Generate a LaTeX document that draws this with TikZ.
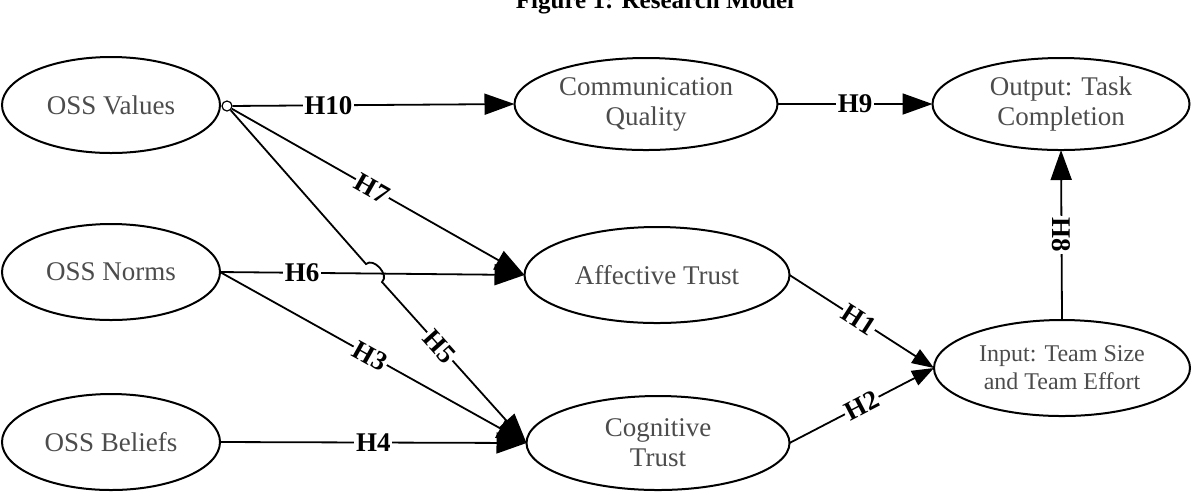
\documentclass[tikz,border=0pt]{standalone}
\usepackage{fontspec}
\setmainfont{Liberation Serif}
\usetikzlibrary{shapes.geometric,arrows.meta}
\begin{document}
\begin{tikzpicture}[x=0.5pt,y=-0.5pt,
  construct/.style={ellipse,draw=black,line width=1pt,inner sep=0pt,outer sep=0pt,
    align=center,text=black!70,font=\fontsize{13.5}{15}\selectfont},
  hyp/.style={font=\bfseries\fontsize{13.5}{14}\selectfont,fill=white,inner sep=0.8pt},
  link/.style={draw=black,line width=0.9pt,-{Triangle[length=15pt,width=10.5pt]}},
  smalllink/.style={draw=black,line width=0.9pt,-{Triangle[length=11pt,width=8pt]}}]
\useasboundingbox (0,0) rectangle (1192,495);

\node[font=\bfseries\fontsize{12.5}{14}\selectfont,anchor=base] (title) at (655,8) {Figure 1: Research Model};

\node[construct,minimum width=109pt,minimum height=48pt] (ov) at (111,105) {OSS Values};
\node[construct,minimum width=109pt,minimum height=48pt] (on) at (111,272) {OSS Norms};
\node[construct,minimum width=109pt,minimum height=48pt] (ob) at (111,442) {OSS Beliefs};
\node[construct,minimum width=131.5pt,minimum height=46pt] (cq) at (646,104) {Communication\\Quality};
\node[construct,minimum width=128.5pt,minimum height=46pt] (out) at (1061,104) {Output: Task\\Completion};
\node[construct,minimum width=132.5pt,minimum height=48pt] (at) at (657,275) {Affective Trust};
\node[construct,minimum width=131.5pt,minimum height=47pt] (ct) at (658,443) {Cognitive\\Trust};
\node[construct,minimum width=128pt,minimum height=48pt,font=\fontsize{12}{14}\selectfont] (in) at (1062,368) {Input: Team Size\\and Team Effort};

\node[circle,draw=black,line width=0.6pt,inner sep=0pt,minimum size=5pt] (vo) at (227,106) {};
\coordinate (hopa) at (366,264);
\coordinate (hopb) at (382,282);

\draw[link] (vo) -- node[hyp,pos=0.34] {H10} (cq.west);
\draw[link] (cq.east) -- node[hyp,pos=0.5] {H9} (out.west);
\draw[link] (in.north) -- node[hyp,rotate=-90,pos=0.5] {H8} (out.south);
\draw[link] (vo) -- node[hyp,sloped,pos=0.48] {H7} (at.west);
\draw[link] (on.east) -- node[hyp,pos=0.27] {H6} (at.west);
\draw[link] (vo) -- (hopa) to[bend left=90,looseness=1.1] (hopb) -- node[hyp,sloped,pos=0.4] {H5} (ct.west);
\draw[link] (on.east) -- node[hyp,sloped,pos=0.49] {H3} (ct.west);
\draw[link] (ob.east) -- node[hyp,pos=0.5] {H4} (ct.west);
\draw[smalllink] (at.east) -- node[hyp,sloped,pos=0.48] {H1} (in.west);
\draw[smalllink] (ct.east) -- node[hyp,sloped,pos=0.5] {H2} (in.west);
\end{tikzpicture}
\end{document}
